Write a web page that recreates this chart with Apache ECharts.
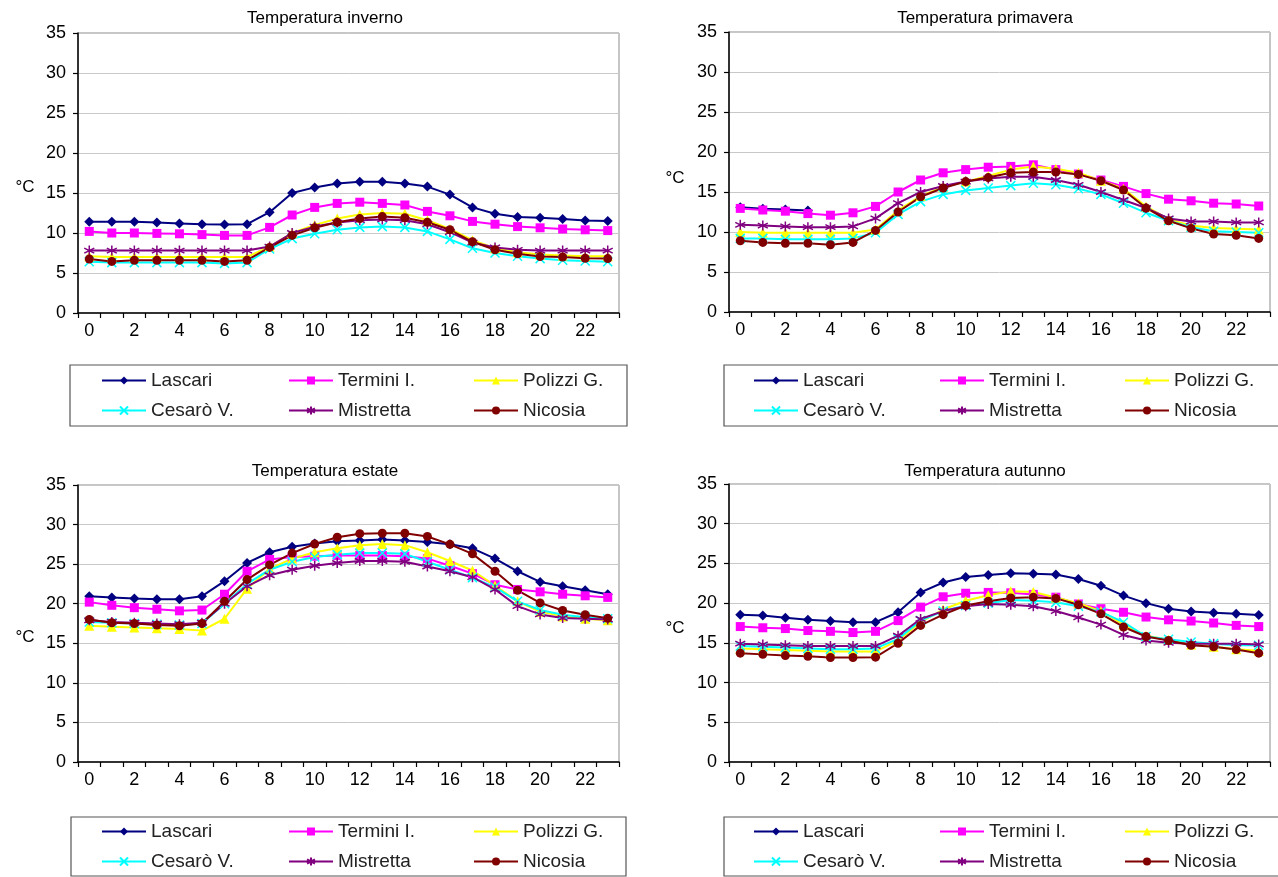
<!DOCTYPE html>
<html>
<head>
<meta charset="utf-8">
<script src="https://cdn.jsdelivr.net/npm/echarts@6/dist/echarts.min.js"></script>
<style>
html,body{margin:0;padding:0;background:#fff;}
#chart{width:1278px;height:877px;}
</style>
</head>
<body>
<div id="chart"></div>
<script>
// ---------- DATA ----------
const hours = ['0','1','2','3','4','5','6','7','8','9','10','11','12','13','14','15','16','17','18','19','20','21','22','23'];
const stationNames = ['Lascari','Termini I.','Polizzi G.','Cesarò V.','Mistretta','Nicosia'];
const chartTitles = ['Temperatura inverno','Temperatura primavera','Temperatura estate','Temperatura autunno'];

// Inverno
const lascariInv   = [11.4, 11.4, 11.4, 11.3, 11.2, 11.1, 11.05, 11.1, 12.6, 15.0, 15.7, 16.2, 16.4, 16.4, 16.2, 15.8, 14.8, 13.2, 12.4, 12.0, 11.9, 11.75, 11.55, 11.5];
const terminiInv   = [10.2, 10.0, 10.0, 9.95, 9.9, 9.8, 9.7, 9.7, 10.7, 12.25, 13.2, 13.7, 13.85, 13.7, 13.5, 12.7, 12.15, 11.45, 11.1, 10.8, 10.65, 10.5, 10.4, 10.3];
const polizziInv   = [7.1, 7.0, 7.0, 7.0, 7.0, 7.0, 7.0, 7.0, 8.3, 10.0, 11.0, 11.8, 12.3, 12.5, 12.4, 11.6, 10.5, 9.1, 8.1, 7.6, 7.3, 7.2, 7.1, 7.1];
const cesaroInv    = [6.4, 6.3, 6.3, 6.3, 6.3, 6.3, 6.2, 6.3, 8.0, 9.3, 9.9, 10.4, 10.7, 10.8, 10.7, 10.2, 9.2, 8.1, 7.5, 7.1, 6.8, 6.6, 6.5, 6.4];
const mistrettaInv = [7.8, 7.8, 7.8, 7.8, 7.8, 7.8, 7.8, 7.8, 8.3, 10.0, 10.8, 11.3, 11.6, 11.7, 11.6, 11.1, 10.1, 8.8, 8.2, 7.9, 7.8, 7.8, 7.8, 7.8];
const nicosiaInv   = [6.75, 6.45, 6.6, 6.6, 6.6, 6.6, 6.45, 6.6, 8.2, 9.7, 10.65, 11.35, 11.8, 12.05, 11.9, 11.35, 10.4, 8.9, 7.9, 7.4, 7.05, 7.0, 6.85, 6.8];

// Primavera
const lascariPri   = [13.1, 12.9, 12.8, 12.7, null, null, null, null, null, null, null, null, null, null, null, null, null, null, null, null, null, null, null, null];
const terminiPri   = [12.95, 12.75, 12.6, 12.3, 12.1, 12.4, 13.2, 15.0, 16.5, 17.4, 17.8, 18.1, 18.2, 18.4, 17.8, 17.25, 16.5, 15.7, 14.8, 14.1, 13.9, 13.6, 13.5, 13.25];
const polizziPri   = [10.0, 9.9, 9.9, 9.9, 9.9, 9.9, 10.3, 12.7, 14.5, 15.6, 16.3, 17.0, 17.8, 18.2, 17.9, 17.4, 16.4, 15.4, 13.2, 11.6, 10.8, 10.5, 10.4, 10.3];
const cesaroPri    = [9.2, 9.2, 9.1, 9.1, 9.1, 9.2, 9.9, 12.2, 13.8, 14.7, 15.2, 15.5, 15.8, 16.1, 15.9, 15.4, 14.7, 13.6, 12.4, 11.4, 10.6, 10.1, 10.0, 9.9];
const mistrettaPri = [10.9, 10.8, 10.7, 10.6, 10.6, 10.7, 11.7, 13.6, 15.0, 15.75, 16.3, 16.7, 16.9, 16.9, 16.5, 15.9, 15.0, 14.0, 13.0, 11.7, 11.3, 11.3, 11.2, 11.2];
const nicosiaPri   = [8.9, 8.7, 8.6, 8.6, 8.4, 8.7, 10.2, 12.5, 14.4, 15.5, 16.3, 16.8, 17.4, 17.5, 17.5, 17.2, 16.4, 15.25, 13.0, 11.4, 10.45, 9.75, 9.6, 9.2];

// Estate
const lascariEst   = [20.95, 20.8, 20.65, 20.55, 20.55, 20.95, 22.85, 25.15, 26.5, 27.2, 27.6, 27.9, 28.0, 28.1, 28.0, 27.8, 27.5, 27.0, 25.7, 24.1, 22.75, 22.2, 21.7, 21.2];
const terminiEst   = [20.2, 19.8, 19.5, 19.3, 19.1, 19.2, 21.2, 24.1, 25.6, 25.9, 26.0, 26.1, 26.1, 26.1, 26.0, 25.7, 24.8, 23.8, 22.4, 21.8, 21.5, 21.2, 21.0, 20.8];
const polizziEst   = [17.2, 17.1, 17.0, 16.9, 16.8, 16.6, 18.1, 21.9, 24.4, 25.7, 26.5, 27.0, 27.4, 27.55, 27.4, 26.5, 25.4, 24.2, 22.3, 20.3, 19.0, 18.4, 18.1, 17.9];
const cesaroEst    = [17.7, 17.6, 17.5, 17.4, 17.3, 17.5, 20.0, 22.5, 24.3, 25.3, 25.9, 26.2, 26.4, 26.4, 26.3, 25.3, 24.3, 23.3, 22.1, 20.3, 19.2, 18.6, 18.3, 18.1];
const mistrettaEst = [17.9, 17.7, 17.6, 17.5, 17.4, 17.6, 20.0, 22.2, 23.6, 24.3, 24.8, 25.15, 25.4, 25.4, 25.3, 24.7, 24.1, 23.35, 21.8, 19.7, 18.65, 18.2, 18.1, 18.0];
const nicosiaEst   = [18.0, 17.6, 17.5, 17.3, 17.2, 17.5, 20.3, 23.05, 24.9, 26.4, 27.55, 28.4, 28.85, 28.9, 28.9, 28.5, 27.5, 26.3, 24.1, 21.7, 20.1, 19.15, 18.6, 18.15];

// Autunno
const lascariAut   = [18.55, 18.45, 18.15, 17.9, 17.75, 17.6, 17.6, 18.85, 21.35, 22.6, 23.3, 23.55, 23.75, 23.7, 23.6, 23.05, 22.2, 20.95, 20.0, 19.3, 18.95, 18.8, 18.65, 18.5];
const terminiAut   = [17.05, 16.9, 16.8, 16.55, 16.45, 16.3, 16.45, 17.8, 19.5, 20.8, 21.25, 21.35, 21.3, 21.1, 20.75, 19.9, 19.3, 18.85, 18.25, 17.9, 17.75, 17.5, 17.2, 17.05];
const polizziAut   = [14.3, 14.2, 14.1, 14.0, 13.9, 13.9, 13.9, 15.3, 17.6, 19.2, 20.3, 21.0, 21.5, 21.4, 20.7, 20.0, 19.0, 17.3, 15.9, 15.4, 14.8, 14.5, 14.2, 14.0];
const cesaroAut    = [14.6, 14.5, 14.4, 14.3, 14.2, 14.2, 14.3, 15.5, 17.8, 19.0, 19.7, 20.0, 20.4, 20.3, 20.1, 19.6, 18.9, 17.6, 15.8, 15.45, 15.1, 14.9, 14.7, 14.7];
const mistrettaAut = [14.9, 14.8, 14.7, 14.6, 14.6, 14.6, 14.6, 15.9, 18.0, 19.0, 19.6, 19.9, 19.8, 19.6, 19.0, 18.2, 17.3, 16.0, 15.3, 15.0, 14.9, 14.9, 14.9, 14.8];
const nicosiaAut   = [13.7, 13.55, 13.4, 13.3, 13.15, 13.15, 13.2, 14.95, 17.2, 18.55, 19.7, 20.25, 20.65, 20.75, 20.6, 19.8, 18.65, 17.0, 15.8, 15.3, 14.7, 14.5, 14.15, 13.7];

const seasonData = [
  [lascariInv, terminiInv, polizziInv, cesaroInv, mistrettaInv, nicosiaInv],
  [lascariPri, terminiPri, polizziPri, cesaroPri, mistrettaPri, nicosiaPri],
  [lascariEst, terminiEst, polizziEst, cesaroEst, mistrettaEst, nicosiaEst],
  [lascariAut, terminiAut, polizziAut, cesaroAut, mistrettaAut, nicosiaAut]
];

// ---------- STYLE ----------
const FONT = '"Liberation Sans", Arial, sans-serif';
const colors = ['#000080', '#FF00FF', '#FFFF00', '#00FFFF', '#800080', '#800000'];
const xPath = 'path://M0,0L10,10M10,0L0,10';
const starPath = 'path://M5,0L5,10M0,2.5L10,7.5M0,7.5L10,2.5';
const symbols = ['diamond', 'rect', 'triangle', xPath, starPath, 'circle'];
const symbolSizes = [10, 9, 10, 9, 10, 9];

const grids = [
  {left: 78, top: 33, width: 541, height: 280},
  {left: 729, top: 32, width: 541, height: 280},
  {left: 78, top: 485, width: 541, height: 277},
  {left: 729, top: 484, width: 541, height: 278}
];
const titlePos = [[320, 5], [980, 5], [320, 458], [980, 458]];
const unitPos = [[25, 187], [675, 178], [25, 637], [675, 628]];
const legendBoxes = [[70, 365, 557, 61], [724, 365, 560, 61], [71, 817, 555, 59], [724, 817, 560, 59]];
const legendCols = [[101, 288, 473], [753, 939, 1124], [101, 288, 473], [753, 939, 1124]];
const legendTops = [371, 371, 822, 822];

const option = {
  backgroundColor: '#fff',
  animation: false,
  textStyle: {fontFamily: FONT},
  title: chartTitles.map((t, i) => ({
    text: t, left: titlePos[i][0], top: titlePos[i][1], textAlign: 'center',
    textStyle: {fontFamily: FONT, fontSize: 17, fontWeight: 'normal', color: '#000'}
  })),
  grid: grids.map(g => Object.assign({show: true, borderColor: '#8c8c8c', borderWidth: 1, backgroundColor: '#fff'}, g)),
  xAxis: grids.map((g, i) => ({
    type: 'category', gridIndex: i, data: hours, boundaryGap: true,
    axisLine: {show: true, lineStyle: {color: '#000', width: 1.5}},
    axisTick: {show: true, interval: 0, length: 5, lineStyle: {color: '#000', width: 1.2}},
    axisLabel: {interval: 1, fontSize: 18, color: '#000', margin: 9, fontFamily: FONT},
    splitLine: {show: false}
  })),
  yAxis: grids.map((g, i) => ({
    type: 'value', gridIndex: i, min: 0, max: 35, interval: 5,
    axisLine: {show: true, lineStyle: {color: '#000', width: 1.5}},
    axisTick: {show: true, length: 5, lineStyle: {color: '#000', width: 1.2}},
    axisLabel: {fontSize: 18, color: '#000', margin: 12, fontFamily: FONT},
    splitLine: {show: true, lineStyle: {color: '#c8c8c8', width: 1}}
  })),
  legend: [],
  graphic: [],
  series: []
};

seasonData.forEach((set, gi) => {
  set.forEach((arr, si) => {
    const isLineSym = si === 3 || si === 4;
    option.series.push({
      type: 'line', name: stationNames[si], xAxisIndex: gi, yAxisIndex: gi,
      data: arr, connectNulls: false,
      symbol: symbols[si], symbolSize: symbolSizes[si], showAllSymbol: true,
      lineStyle: {color: colors[si], width: 2},
      itemStyle: isLineSym
        ? {color: colors[si], borderColor: colors[si], borderWidth: 1.5}
        : {color: colors[si], borderColor: colors[si], borderWidth: 0},
      emphasis: {disabled: true}
    });
  });
  // legends: 3 columns x 2 rows
  const colItems = [[0, 3], [1, 4], [2, 5]];
  colItems.forEach((items, ci) => {
    option.legend.push({
      orient: 'vertical', left: legendCols[gi][ci], top: legendTops[gi],
      width: 160, height: 80, padding: 0,
      itemWidth: 44, itemHeight: 10, itemGap: 11,
      data: items.map(k => stationNames[k]),
      textStyle: {fontFamily: FONT, fontSize: 19, color: '#222'},
      selectedMode: false
    });
  });
  const b = legendBoxes[gi];
  option.graphic.push({
    type: 'rect', shape: {x: b[0], y: b[1], width: b[2], height: b[3]},
    style: {fill: 'none', stroke: '#555', lineWidth: 1.2}, z: -1, silent: true
  });
  option.graphic.push({
    type: 'text', x: unitPos[gi][0], y: unitPos[gi][1],
    style: {text: '°C', font: '17px ' + FONT, fill: '#000', textAlign: 'center', textVerticalAlign: 'middle'},
    silent: true
  });
});

const chart = echarts.init(document.getElementById('chart'), null, {renderer: 'canvas'});
chart.setOption(option);
</script>
</body>
</html>
